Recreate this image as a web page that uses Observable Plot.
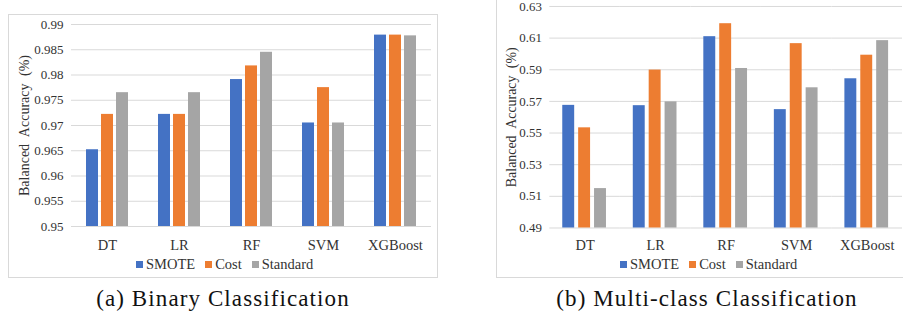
<!DOCTYPE html>
<html>
<head>
<meta charset="utf-8">
<script src="https://cdn.jsdelivr.net/npm/d3@7"></script>
<script src="https://cdn.jsdelivr.net/npm/@observablehq/plot@0.6"></script>
<style>
  html, body { margin: 0; padding: 0; background: #fff; }
  #wrap { position: relative; width: 903px; height: 320px; overflow: hidden; font-family: "Liberation Serif", Tinos, "Times New Roman", "DejaVu Serif", serif; }
  .frame { position: absolute; border: 1px solid #d9d9d9; box-sizing: border-box; }
  .chart { position: absolute; top: 0; }
  .legend { position: absolute; font-size: 14.5px; color: #333; white-space: nowrap; line-height: 16px; }
  .legend span.sw { display: inline-block; width: 7px; height: 7px; margin-right: 3px; vertical-align: 1px; }
  .legend span.it { margin-right: 10px; }
  .caption { position: absolute; top: 286px; font-size: 23px; letter-spacing: 1.1px; color: #111; text-align: center; }
</style>
</head>
<body>
<div id="wrap">
  <div class="frame" style="left:8px;top:14px;width:430px;height:264px;"></div>
  <div class="frame" style="left:496px;top:-10px;width:430px;height:288px;"></div>
  <div class="chart" id="left" style="left:0px;"></div>
  <div class="chart" id="right" style="left:450px;"></div>
  <div class="legend" id="legL" style="left:136px;top:256px;"></div>
  <div class="legend" id="legR" style="left:620px;top:256px;"></div>
  <div class="caption" style="left:8px;width:430px;">(a) Binary Classification</div>
  <div class="caption" style="left:497px;width:420px;">(b) Multi-class Classification</div>
</div>
<script>
const categories = ["DT", "LR", "RF", "SVM", "XGBoost"];
const methods = ["SMOTE", "Cost", "Standard"];
const colors = ["#4472C4", "#ED7D31", "#A5A5A5"];

const binarySmote    = [0.9652, 0.9722, 0.9791, 0.9705, 0.9879];
const binaryCost     = [0.9722, 0.9722, 0.9818, 0.9775, 0.9879];
const binaryStandard = [0.9765, 0.9765, 0.9845, 0.9705, 0.98775];
const binaryTicks = [0.95, 0.955, 0.96, 0.965, 0.97, 0.975, 0.98, 0.985, 0.99];

const multiSmote    = [0.5675, 0.5673, 0.6109, 0.5648, 0.5843];
const multiCost     = [0.5533, 0.5898, 0.6191, 0.6065, 0.5992];
const multiStandard = [0.5149, 0.5697, 0.5908, 0.5786, 0.6084];
const multiTicks = [0.49, 0.51, 0.53, 0.55, 0.57, 0.59, 0.61, 0.63];

const yLabel = "Balanced Accuracy (%)";
const FONT = "'Liberation Serif', Tinos, 'Times New Roman', 'DejaVu Serif', serif";

function rows(series) {
  const out = [];
  categories.forEach((c, i) => {
    methods.forEach((m, j) => out.push({category: c, method: m, value: series[j][i]}));
  });
  return out;
}

function chart(data, ticks, opts) {
  const base = ticks[0];
  return Plot.plot({
    width: opts.width,
    height: 280,
    marginLeft: opts.marginLeft,
    marginRight: opts.marginRight,
    marginTop: opts.marginTop,
    marginBottom: opts.marginBottom,
    style: {fontFamily: FONT, fontSize: "13px", color: "#333", background: "transparent", overflow: "visible"},
    fx: {domain: categories, padding: 0, label: null, axis: "bottom", tickSize: 0, tickPadding: opts.fxPad},
    x: {domain: methods, paddingInner: 0.23, paddingOuter: opts.po, axis: null},
    y: {domain: [ticks[0], ticks[ticks.length - 1]], ticks: ticks, tickFormat: d => String(+d.toFixed(3)), tickSize: 0, tickPadding: 8,
        label: yLabel, labelAnchor: "center", labelOffset: opts.labelOffset, labelArrow: "none"},
    color: {domain: methods, range: colors},
    marks: [
      Plot.ruleY(ticks, {stroke: "#d9d9d9", strokeWidth: 1}),
      Plot.barY(data, {fx: "category", x: "method", y1: () => base, y2: "value", fill: "method"})
    ]
  });
}

const left = chart(rows([binarySmote, binaryCost, binaryStandard]), binaryTicks,
  {width: 450, marginLeft: 70, marginRight: 18, marginTop: 24, marginBottom: 54, po: 0.88, fxPad: 13, labelOffset: 52});
const right = chart(rows([multiSmote, multiCost, multiStandard]), multiTicks,
  {width: 456, marginLeft: 99, marginRight: 0, marginTop: 6, marginBottom: 51, po: 0.81, fxPad: 12, labelOffset: 44});

document.getElementById("left").appendChild(left);
document.getElementById("right").appendChild(right);

for (const id of ["legL", "legR"]) {
  const el = document.getElementById(id);
  methods.forEach((m, j) => {
    const it = document.createElement("span");
    it.className = "it";
    it.innerHTML = `<span class="sw" style="background:${colors[j]}"></span>${m}`;
    el.appendChild(it);
  });
}
for (const svg of [left, right]) {
  svg.querySelectorAll("g[aria-label='fx-axis tick label']").forEach(t => t.setAttribute("font-size", "14.5"));
  svg.querySelectorAll("g[aria-label='y-axis label']").forEach(t => {
    t.setAttribute("font-size", "14");
    t.style.wordSpacing = "4px";
  });
}
</script>
</body>
</html>
